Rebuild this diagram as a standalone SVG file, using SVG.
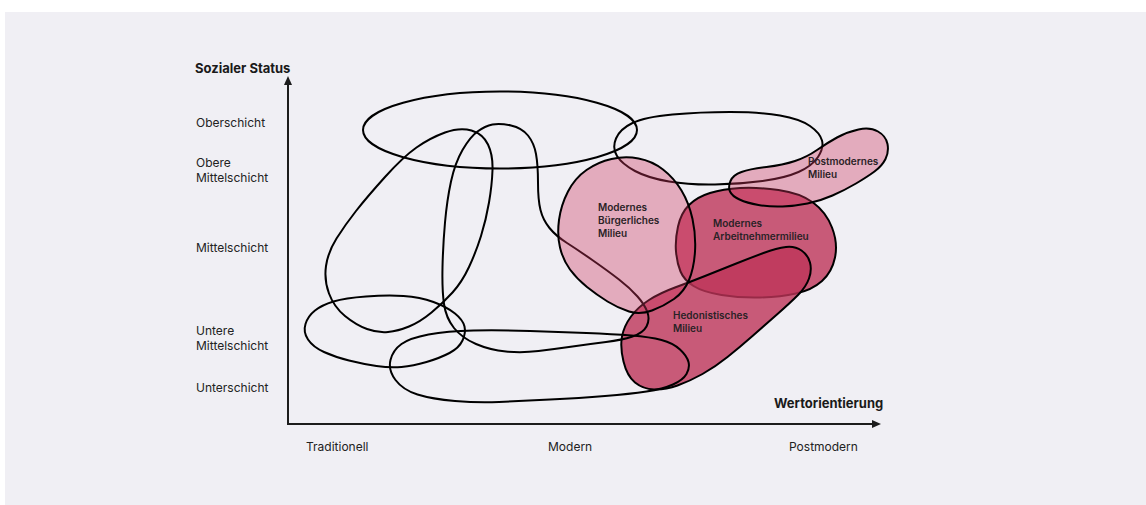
<svg xmlns="http://www.w3.org/2000/svg" width="1146" height="505" viewBox="0 0 1146 505">
<style>
.lbl{font-family:Inter,"Liberation Sans",sans-serif;font-size:12px;fill:#222}
.ttl{font-family:Inter,"Liberation Sans",sans-serif;font-size:13px;font-weight:700;fill:#1a1a1a}
.in{font-family:Inter,"Liberation Sans",sans-serif;font-size:10px;font-weight:600;fill:#2a2226}
.ol{fill:none;stroke:#000;stroke-width:2}
.light{fill:#cd375f;fill-opacity:0.37;stroke:#000;stroke-width:2}
.mid{fill:#be3559;fill-opacity:0.8;stroke:#000;stroke-width:2}
.axis{stroke:#1c1c1c;stroke-width:2;fill:none}
</style>
<rect x="5" y="12" width="1141" height="493" fill="#f0eff4"/>
<g id="axes">
<line class="axis" x1="288" y1="425" x2="288" y2="83"/>
<polygon points="288,76 284,85 292,85" fill="#1c1c1c"/>
<line class="axis" x1="287" y1="424" x2="873" y2="424"/>
<polygon points="881,424 872,420 872,428" fill="#1c1c1c"/>
</g>
<g id="axis-labels">
<text class="ttl" x="195" y="73">Sozialer Status</text>
<text class="lbl" x="196" y="127">Oberschicht</text>
<text class="lbl" x="196" y="167">Obere</text>
<text class="lbl" x="196" y="182">Mittelschicht</text>
<text class="lbl" x="196" y="252">Mittelschicht</text>
<text class="lbl" x="196" y="335">Untere</text>
<text class="lbl" x="196" y="350">Mittelschicht</text>
<text class="lbl" x="196" y="392">Unterschicht</text>
<text class="ttl" x="774" y="408">Wertorientierung</text>
<text class="lbl" x="306" y="451">Traditionell</text>
<text class="lbl" x="548" y="451">Modern</text>
<text class="lbl" x="789" y="451">Postmodern</text>
</g>
<g id="outline-F">
<path class="ol" d="M617,156 Q612,148 616,138.5 Q620,129 632.5,123 Q645,117 672.5,114.5 Q700,112 730,112 Q760,112 780,115.5 Q800,119 810,126 Q820,133 822,140.5 Q824,148 818,157 Q812,166 798.5,172 Q785,178 762.5,181 Q740,184 715,184.5 Q690,185 669,181.5 Q648,178 635,171 Q622,164 617,156 Z"/>
</g>
<g id="outline-A">
<ellipse class="ol" cx="500" cy="130" rx="137" ry="38.5"/>
</g>
<g id="outline-B">
<path class="ol" d="M445,132.5 Q460,127 471.5,130.5 Q483,134 488,144.5 Q493,155 492.5,170 Q492,185 489,202.5 Q486,220 481,236 Q476,252 469,267 Q462,282 452.5,292.5 Q443,303 431.5,312.5 Q420,322 409,326.5 Q398,331 388,332 Q378,333 367,329 Q356,325 345,316 Q334,307 329,293.5 Q324,280 326,266 Q328,252 336.5,238.5 Q345,225 356,211 Q367,197 385,177 Q403,157 416.5,147.5 Q430,138 445,132.5 Z"/>
</g>
<g id="outline-D">
<path class="ol" d="M308,339.5 Q303,332 305.5,324 Q308,316 315,310.5 Q322,305 333.5,301.5 Q345,298 366,296.5 Q387,295 403.5,296 Q420,297 433.5,302 Q447,307 455,313.5 Q463,320 464.5,326.5 Q466,333 462.5,340.5 Q459,348 449.5,353 Q440,358 426.5,362 Q413,366 401.5,367 Q390,368 376.5,366 Q363,364 349,360.5 Q335,357 324,352 Q313,347 308,339.5 Z"/>
</g>
<g id="milieu-arbeitnehmer">
<path class="mid" d="M676,251.5 Q675,240 678,226.5 Q681,213 689,205 Q697,197 710,193 Q723,189 740,188 Q757,187 778.5,190 Q800,193 813,202.5 Q826,212 832,227.5 Q838,243 835,257.5 Q832,272 822,281 Q812,290 796,293.5 Q780,297 760,297.5 Q740,298 721.5,295 Q703,292 693.5,286 Q684,280 680.5,271.5 Q677,263 676,251.5 Z"/>
</g>
<g id="milieu-hedonistisch">
<path class="mid" d="M623.5,361.5 Q620,347 622,336.5 Q624,326 631,316.5 Q638,307 649,300 Q660,293 675,287.5 Q690,282 705,276 Q720,270 735,264 Q750,258 763.5,253 Q777,248 786,247 Q795,246 801.5,250.5 Q808,255 810,262.5 Q812,270 809,278.5 Q806,287 798,295 Q790,303 777.5,314 Q765,325 752.5,336 Q740,347 727.5,357 Q715,367 702.5,374 Q690,381 677.5,385.5 Q665,390 654,389.5 Q643,389 635,382.5 Q627,376 623.5,361.5 Z"/>
</g>
<g id="outline-C">
<path class="ol" d="M492.5,124.5 Q500,123 511,125.5 Q522,128 528,135.5 Q534,143 536,154 Q538,165 538,182.5 Q538,200 540.5,210 Q543,220 549.5,228 Q556,236 567,243 Q578,250 593,260.5 Q608,271 619,279.5 Q630,288 637.5,296.5 Q645,305 647.5,312.5 Q650,320 646.5,326.5 Q643,333 632.5,336.5 Q622,340 606,342 Q590,344 572.5,346.5 Q555,349 538.5,351 Q522,353 506,351.5 Q490,350 476,344 Q462,338 454,328 Q446,318 444,304 Q442,290 442.5,267.5 Q443,245 445,222.5 Q447,200 451,181.5 Q455,163 462.5,150 Q470,137 477.5,131.5 Q485,126 492.5,124.5 Z"/>
</g>
<g id="outline-E">
<path class="ol" d="M395.5,380 Q388,370 390.5,360 Q393,350 401.5,344 Q410,338 428.5,334.5 Q447,331 473.5,330.5 Q500,330 530,331 Q560,332 586.5,333 Q613,334 631.5,335.5 Q650,337 661.5,340 Q673,343 680,349.5 Q687,356 688.5,362 Q690,368 686.5,374 Q683,380 673,384.5 Q663,389 646.5,391.5 Q630,394 605,396 Q580,398 550,399.5 Q520,401 499,402 Q478,403 455,401 Q432,399 417.5,394.5 Q403,390 395.5,380 Z"/>
</g>
<g id="milieu-buergerlich">
<path class="light" d="M560,247.5 Q557,235 559,220 Q561,205 568,191.5 Q575,178 586.5,170 Q598,162 611.5,159 Q625,156 638.5,158.5 Q652,161 663,169.5 Q674,178 681.5,190.5 Q689,203 692.5,219 Q696,235 695,251.5 Q694,268 689,280 Q684,292 674,299 Q664,306 652,310.5 Q640,315 629,311.5 Q618,308 607.5,301.5 Q597,295 587,287 Q577,279 570,269.5 Q563,260 560,247.5 Z"/>
</g>
<g id="milieu-postmodern">
<path class="light" d="M730,191.5 Q728,187 730.5,181 Q733,175 741.5,172 Q750,169 766.5,167 Q783,165 795,161 Q807,157 817,150 Q827,143 837,137.5 Q847,132 858.5,129.5 Q870,127 878,131.5 Q886,136 887.5,144 Q889,152 885.5,159 Q882,166 874.5,171.5 Q867,177 856,183.5 Q845,190 832.5,195.5 Q820,201 807.5,203.5 Q795,206 782.5,206.5 Q770,207 758.5,205 Q747,203 739.5,199.5 Q732,196 730,191.5 Z"/>
</g>
<g id="milieu-labels">
<text class="in" x="598" y="211">Modernes</text>
<text class="in" x="598" y="224">Bürgerliches</text>
<text class="in" x="598" y="237">Milieu</text>
<text class="in" x="713" y="227">Modernes</text>
<text class="in" x="713" y="240">Arbeitnehmermilieu</text>
<text class="in" x="808" y="165">Postmodernes</text>
<text class="in" x="808" y="178">Milieu</text>
<text class="in" x="673" y="319">Hedonistisches</text>
<text class="in" x="673" y="332">Milieu</text>
</g>
</svg>
